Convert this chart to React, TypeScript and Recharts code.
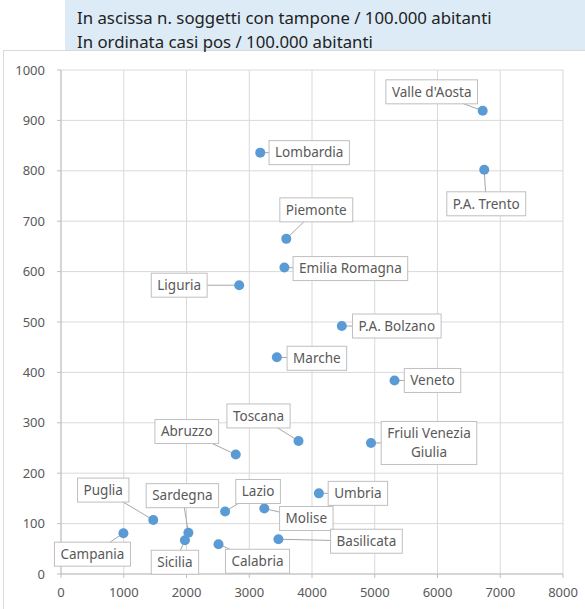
import { CartesianGrid, Scatter, ScatterChart, XAxis, YAxis } from "recharts"

const REGIONS = [
  "Valle d'Aosta",
  "P.A. Trento",
  "Lombardia",
  "Piemonte",
  "Emilia Romagna",
  "Liguria",
  "P.A. Bolzano",
  "Marche",
  "Veneto",
  "Toscana",
  "Abruzzo",
  "Friuli Venezia Giulia",
  "Umbria",
  "Puglia",
  "Lazio",
  "Molise",
  "Sardegna",
  "Campania",
  "Sicilia",
  "Calabria",
  "Basilicata",
]
// soggetti con tampone / 100.000 abitanti
const TAMPONI = [6720, 6745, 3175, 3590, 3560, 2840, 4475, 3440, 5315, 3785, 2785, 4940, 4110, 1470, 2615, 3240, 2030, 995, 1975, 2510, 3465]
// casi positivi / 100.000 abitanti
const CASI = [919, 802, 836, 665, 608, 573, 492, 430, 384, 264, 237, 260, 160, 107, 124, 130, 82, 81, 67, 59, 69]

const X_TICKS = [0, 1000, 2000, 3000, 4000, 5000, 6000, 7000, 8000]
const Y_TICKS = [0, 100, 200, 300, 400, 500, 600, 700, 800, 900, 1000]

const HEADER = ["In ascissa n. soggetti con tampone / 100.000 abitanti", "In ordinata casi pos / 100.000 abitanti"]

const data = REGIONS.map((name, i) => ({ name, x: TAMPONI[i], y: CASI[i] }))

// where each data label box sits relative to its marker (px), like the hand-placed Excel labels
const LABEL_POS: Record<string, [number, number]> = {
  "Valle d'Aosta": [-51, -19],
  "P.A. Trento": [2, 34],
  Lombardia: [49, 0],
  Piemonte: [30, -29],
  "Emilia Romagna": [66, 1],
  Liguria: [-60, 0],
  "P.A. Bolzano": [55, 0],
  Marche: [40, 1],
  Veneto: [38, 0],
  Toscana: [-40, -25],
  Abruzzo: [-49, -23],
  "Friuli Venezia Giulia": [58, 0],
  Umbria: [39, 0],
  Puglia: [-50, -30],
  Lazio: [33, -20],
  Molise: [42, 10],
  Sardegna: [-6, -37],
  Campania: [-31, 21],
  Sicilia: [-10, 22],
  Calabria: [39, 17],
  Basilicata: [88, 2],
}
const WRAP: Record<string, string[]> = { "Friuli Venezia Giulia": ["Friuli Venezia", "Giulia"] }

const FONT = '"Noto Sans", sans-serif'
const GRID = "#D9D9D9"
const TEXT = "#595959"
const BLUE = "#5B9BD5"
const LABEL_SIZE = 13.5

let ctx: CanvasRenderingContext2D | null = null
function textWidth(s: string) {
  if (!ctx) ctx = document.createElement("canvas").getContext("2d")
  if (!ctx) return s.length * LABEL_SIZE * 0.52
  ctx.font = `${LABEL_SIZE}px "Noto Sans"`
  return ctx.measureText(s).width
}

function Leader(props: any) {
  const { cx, cy, payload } = props
  const [dx, dy] = LABEL_POS[payload.name] ?? [30, 0]
  return <line x1={cx} y1={cy} x2={cx + dx} y2={cy + dy} stroke="#A6A6A6" strokeWidth={1} />
}

function Marker(props: any) {
  return <circle cx={props.cx} cy={props.cy} r={5} fill={BLUE} />
}

function LabelBox(props: any) {
  const { cx, cy, payload } = props
  const [dx, dy] = LABEL_POS[payload.name] ?? [30, 0]
  const lines = WRAP[payload.name] ?? [payload.name]
  const w = Math.max(...lines.map(textWidth)) + 12
  const lh = 19
  const h = lines.length * lh + 5
  const bx = cx + dx
  const by = cy + dy
  return (
    <g>
      <rect x={bx - w / 2} y={by - h / 2} width={w} height={h} fill="#fff" stroke="#BFBFBF" strokeWidth={1} />
      {lines.map((l, i) => (
        <text
          key={i}
          x={bx}
          y={by - h / 2 + 2.5 + lh * i + lh / 2}
          dy="0.35em"
          textAnchor="middle"
          fill={TEXT}
          fontSize={LABEL_SIZE}
          fontFamily={FONT}
        >
          {l}
        </text>
      ))}
    </g>
  )
}

export default function App() {
  const tick = { fill: TEXT, fontSize: 13, fontFamily: FONT }
  return (
    <div style={{ position: "absolute", left: 0, top: 0, width: 585, height: 609, background: "#fff", overflow: "hidden" }}>
      <div style={{ position: "absolute", left: 3, top: 50, width: 600, height: 600, border: `1px solid ${GRID}` }} />
      <div
        style={{
          position: "absolute",
          left: 65,
          top: 0,
          width: 520,
          height: 50,
          background: "#DDEBF7",
          boxSizing: "border-box",
          paddingTop: 6,
          paddingLeft: 12,
          fontFamily: FONT,
          fontSize: 16.8,
          lineHeight: "24px",
          color: "#222",
          whiteSpace: "nowrap",
        }}
      >
        {HEADER.map((t) => (
          <div key={t}>{t}</div>
        ))}
      </div>
      <div style={{ position: "absolute", left: 0, top: 0 }}>
        <ScatterChart width={585} height={609} margin={{ top: 70, right: 22, bottom: 5, left: 21 }}>
          <CartesianGrid stroke={GRID} />
          <XAxis
            type="number"
            dataKey="x"
            domain={[0, 8000]}
            ticks={X_TICKS}
            height={30}
            tick={tick}
            tickSize={4}
            tickMargin={10}
            stroke="#BFBFBF"
          />
          <YAxis
            type="number"
            dataKey="y"
            domain={[0, 1000]}
            ticks={Y_TICKS}
            width={40}
            tick={tick}
            tickSize={4}
            tickMargin={12}
            stroke="#BFBFBF"
          />
          <Scatter data={data} shape={Leader} isAnimationActive={false} />
          <Scatter data={data} shape={Marker} isAnimationActive={false} />
          <Scatter data={data} shape={LabelBox} isAnimationActive={false} />
        </ScatterChart>
      </div>
    </div>
  )
}
